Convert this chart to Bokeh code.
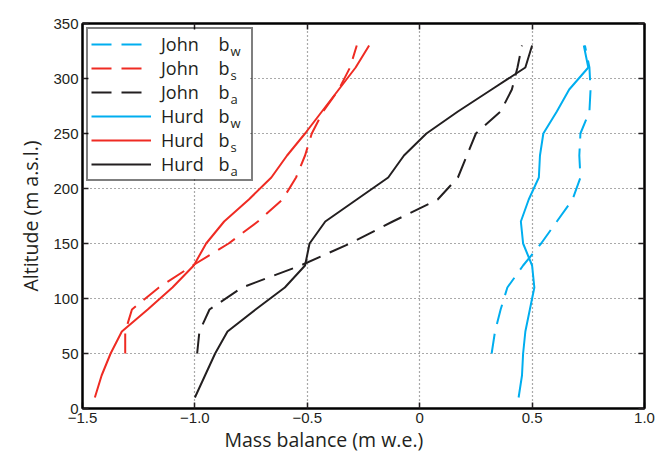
from bokeh.plotting import figure
from bokeh.models import (Legend, LegendItem, LinearAxis, FixedTicker, Range1d,
                          BoxAnnotation, ColumnDataSource, Title)
from bokeh.core.properties import value
from bokeh.embed import file_html
from bokeh.resources import INLINE

# ---------------- data ----------------
alt_hurd = [10, 30, 50, 70, 90, 110, 130, 150, 170, 190, 210, 230, 250, 270, 290, 310, 330]
alt_john = [50, 70, 90, 110, 130, 150, 170, 190, 210, 230, 250, 270, 290, 310, 330]

hurd_bw = [0.44, 0.455, 0.46, 0.47, 0.49, 0.51, 0.50, 0.46, 0.45, 0.485, 0.53, 0.535, 0.55, 0.61, 0.665, 0.75, 0.73]
hurd_bs = [-1.445, -1.415, -1.375, -1.325, -1.21, -1.10, -1.005, -0.95, -0.87, -0.76, -0.66, -0.59, -0.51, -0.435, -0.36, -0.285, -0.225]
hurd_ba = [-1.00, -0.955, -0.91, -0.855, -0.73, -0.60, -0.51, -0.49, -0.42, -0.28, -0.14, -0.07, 0.03, 0.17, 0.32, 0.47, 0.50]

john_bw = [0.32, 0.335, 0.36, 0.39, 0.46, 0.54, 0.61, 0.68, 0.715, 0.71, 0.715, 0.755, 0.76, 0.755, 0.735]
john_bs = [-1.31, -1.31, -1.28, -1.16, -1.01, -0.85, -0.72, -0.61, -0.55, -0.51, -0.48, -0.43, -0.36, -0.31, -0.28]
john_ba = [-0.99, -0.98, -0.935, -0.79, -0.53, -0.31, -0.12, 0.08, 0.17, 0.21, 0.25, 0.36, 0.41, 0.435, 0.455]

x_ticks = [-1.5, -1.0, -0.5, 0.0, 0.5, 1.0]
x_tick_labels = ["\u22121.5", "\u22121.0", "\u22120.5", "0", "0.5", "1.0"]
y_ticks = [0, 50, 100, 150, 200, 250, 300, 350]
y_tick_labels = ["0", "50", "100", "150", "200", "250", "300", "350"]

series_names = ["John", "John", "John", "Hurd", "Hurd", "Hurd"]
series_subs = ["w", "s", "a", "w", "s", "a"]

BLUE = "#00AEEF"
RED = "#EF2B23"
BLACK = "#231F20"
DASH = "20 10"

# ---------------- layout ----------------
W, H = 655, 462
BL, BT, BR = 82, 23, 11
FW = W - BL - BR
FH = 385
BB = H - BT - FH
X0, X1, Y0, Y1 = -1.5, 1.0, 0, 350

p = figure(width=W, height=H, x_range=Range1d(X0, X1), y_range=Range1d(Y0, Y1),
           output_backend="svg", toolbar_location=None,
           min_border_left=BL, min_border_right=BR, min_border_top=BT, min_border_bottom=BB)
p.background_fill_color = "white"
p.border_fill_color = "white"
p.outline_line_color = "black"
p.outline_line_width = 2

TICK_FONT = "Liberation Sans"
LABEL_FONT = "Open Sans"

for ax, ticks, labels in ((p.xaxis, x_ticks, x_tick_labels), (p.yaxis, y_ticks, y_tick_labels)):
    ax.ticker = FixedTicker(ticks=ticks)
    ax.major_label_overrides = {t: l for t, l in zip(ticks, labels)}
    ax.major_label_text_font = TICK_FONT
    ax.major_label_text_font_size = "15px"
    ax.major_label_text_color = BLACK
    ax.major_tick_in = 6
    ax.major_tick_out = 0
    ax.major_tick_line_width = 1.5
    ax.major_tick_line_color = BLACK
    ax.minor_tick_line_color = None
    ax.axis_line_width = 2
    ax.axis_line_color = "black"
    ax.axis_label_text_font = LABEL_FONT
    ax.axis_label_text_font_size = "19.5px"
    ax.axis_label_text_font_style = "normal"
    ax.axis_label_text_color = BLACK
    ax.major_label_standoff = 4

p.yaxis.axis_label = "Altitude (m a.s.l.)"
p.yaxis.axis_label_standoff = 6

# x-axis title sits left of centre in the original, so use a Title in the lower panel
p.add_layout(Title(text="Mass balance (m w.e.)", align="left", offset=142, standoff=-3,
                   text_font=LABEL_FONT, text_font_size="19.5px", text_font_style="normal",
                   text_color=BLACK), "below")

for loc, ticks in (("above", x_ticks), ("right", y_ticks)):
    ax = LinearAxis(ticker=FixedTicker(ticks=ticks),
                    major_label_overrides={t: "" for t in ticks},
                    major_label_text_font_size="0px", major_label_standoff=0,
                    major_tick_in=6, major_tick_out=0, major_tick_line_width=1.5,
                    major_tick_line_color=BLACK, minor_tick_line_color=None,
                    axis_line_width=2, axis_line_color="black")
    p.add_layout(ax, loc)

p.xgrid.ticker = FixedTicker(ticks=x_ticks)
p.ygrid.ticker = FixedTicker(ticks=y_ticks)
for g in (p.xgrid, p.ygrid):
    g.grid_line_color = "#555555"
    g.grid_line_dash = "1 3"
    g.grid_line_width = 1.2

# ---------------- legend geometry (pixels inside the frame) ----------------
L_MARGIN, L_PAD, ROW = 4, 3, 24
GLYPH_W, STANDOFF, LABEL_W = 60, 10, 87
LEG_W = 2 * L_PAD + GLYPH_W + STANDOFF + LABEL_W
LEG_H = 2 * L_PAD + ROW * len(series_names)

def px_x(dx):
    return X0 + dx * (X1 - X0) / FW

def px_y(dy):
    return Y1 - dy * (Y1 - Y0) / FH

# white legend background
p.add_layout(BoxAnnotation(left=px_x(L_MARGIN), right=px_x(L_MARGIN + LEG_W),
                           top=px_y(L_MARGIN), bottom=px_y(L_MARGIN + LEG_H),
                           fill_color="white", fill_alpha=1.0, line_color=None,
                           level="underlay"))

# ---------------- lines ----------------
r_jbw = p.line(john_bw, alt_john, line_color=BLUE, line_width=2, line_dash=DASH)
r_jbs = p.line(john_bs, alt_john, line_color=RED, line_width=2, line_dash=DASH)
r_jba = p.line(john_ba, alt_john, line_color=BLACK, line_width=2, line_dash=DASH)
r_hbw = p.line(hurd_bw, alt_hurd, line_color=BLUE, line_width=2)
r_hbs = p.line(hurd_bs, alt_hurd, line_color=RED, line_width=2)
r_hba = p.line(hurd_ba, alt_hurd, line_color=BLACK, line_width=2)
renderers = [r_jbw, r_jbs, r_jba, r_hbw, r_hbs, r_hba]

# ---------------- legend ----------------
legend = Legend(items=[LegendItem(label=n, renderers=[r]) for n, r in zip(series_names, renderers)],
                location="top_left", margin=L_MARGIN, padding=L_PAD, spacing=0,
                glyph_width=GLYPH_W, glyph_height=ROW, label_height=ROW, label_width=LABEL_W,
                label_standoff=STANDOFF, border_line_color="black", border_line_width=2,
                background_fill_alpha=0.0,
                label_text_font=LABEL_FONT, label_text_font_size="18px",
                label_text_color=BLACK)
p.add_layout(legend)

# "b" with subscript for each legend row
B_DX, SUB_DX = 136, 148
rows = range(len(series_subs))
centers = [L_MARGIN + L_PAD + ROW / 2 + ROW * i for i in rows]
b_src = ColumnDataSource(dict(x=[px_x(B_DX)] * len(centers),
                              y=[px_y(c + 1) for c in centers],
                              t=["b"] * len(centers)))
s_src = ColumnDataSource(dict(x=[px_x(SUB_DX)] * len(centers),
                              y=[px_y(c + 8.5) for c in centers],
                              t=series_subs))
p.text(x="x", y="y", text="t", source=b_src, text_font=value(LABEL_FONT),
       text_font_size="18px", text_baseline="middle", text_align="left", text_color=BLACK)
p.text(x="x", y="y", text="t", source=s_src, text_font=value(LABEL_FONT),
       text_font_size="13px", text_baseline="middle", text_align="left", text_color=BLACK)

open("out.html", "w").write(file_html(p, INLINE))
